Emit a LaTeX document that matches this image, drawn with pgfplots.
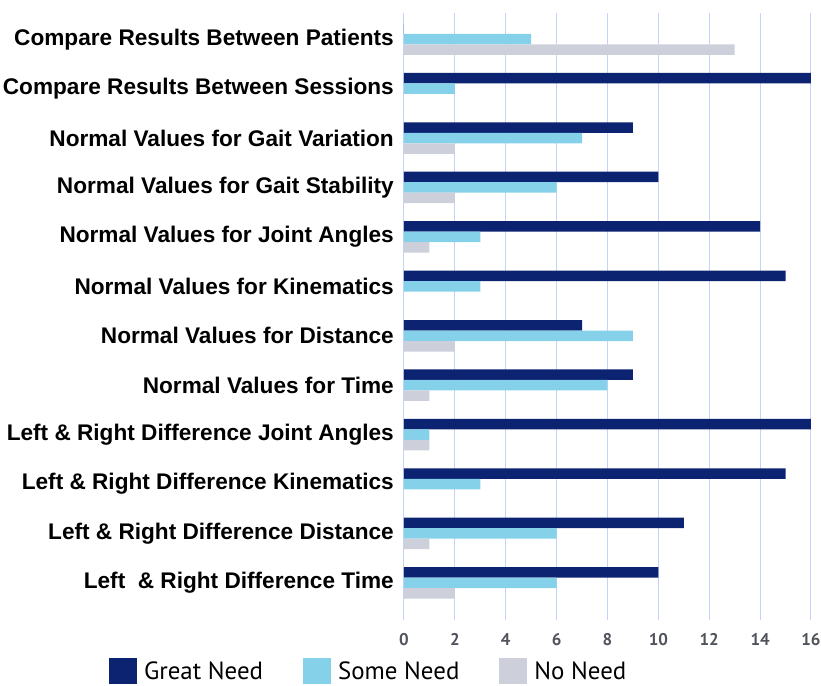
\documentclass[border=0pt]{standalone}
\usepackage{fontspec}
\setmainfont{Liberation Sans}
\newfontfamily\tickfont{PT Sans}
\usepackage{pgfplots}
\pgfplotsset{compat=1.18}
\definecolor{great}{RGB}{11,35,112}
\definecolor{some}{RGB}{133,209,234}
\definecolor{noneed}{RGB}{205,208,219}
\definecolor{gridc}{RGB}{196,211,250}
\definecolor{tickc}{RGB}{80,82,92}

\begin{document}
\begin{tikzpicture}
\begin{axis}[
  xbar, scale only axis, width=407bp, height=607bp,
  xmin=0, xmax=16, ymin=-0.75, ymax=11.53,
  xtick={0,2,...,16}, ytick={0,...,11},
  yticklabels={Left \ \& Right Difference Time, Left \& Right Difference Distance,
    Left \& Right Difference Kinematics, Left \& Right Difference Joint Angles,
    Normal Values for Time, Normal Values for Distance, Normal Values for Kinematics,
    Normal Values for Joint Angles, Normal Values for Gait Stability,
    Normal Values for Gait Variation, Compare Results Between Sessions,
    Compare Results Between Patients},
  axis line style={draw=none}, major tick length=0,
  xmajorgrids, grid style={gridc, line width=1bp},
  bar width=10.5bp,
  y tick label style={font=\fontsize{22.7}{25}\selectfont\bfseries, anchor=east, inner sep=0pt, xshift=-10bp},
  x tick label style={font=\tickfont\bfseries\fontsize{17}{20}\selectfont, text=tickc, inner sep=0pt, yshift=-13bp},
  /pgf/number format/assume math mode=true,
  legend columns=3,
  legend style={draw=none, inner sep=0pt, at={(axis description cs:-0.725,-0.0626)}, anchor=north west,
    font=\tickfont\fontsize{25}{28}\selectfont,
    /tikz/every odd column/.append style={column sep=5bp},
    /tikz/every even column/.append style={column sep=38bp}},
  legend image code/.code={\fill[#1,draw=none] (0bp,-13bp) rectangle (28bp,13bp);},
]
\addplot[fill=great, draw=none, bar shift=10.5bp] coordinates {
(0,11) (16,10) (9,9) (10,8) (14,7) (15,6) (7,5) (9,4) (16,3) (15,2) (11,1) (10,0)};
\addlegendentry{Great Need}
\addplot[fill=some, draw=none, bar shift=0bp] coordinates {
(5,11) (2,10) (7,9) (6,8) (3,7) (3,6) (9,5) (8,4) (1,3) (3,2) (6,1) (6,0)};
\addlegendentry{Some Need}
\addplot[fill=noneed, draw=none, bar shift=-10.5bp] coordinates {
(13,11) (0,10) (2,9) (2,8) (1,7) (0,6) (2,5) (1,4) (1,3) (0,2) (1,1) (2,0)};
\addlegendentry{No Need}
\end{axis}
\pgfresetboundingbox
\path[use as bounding box] (-404bp,-66bp) rectangle (417bp,620bp);
\end{tikzpicture}
\end{document}
